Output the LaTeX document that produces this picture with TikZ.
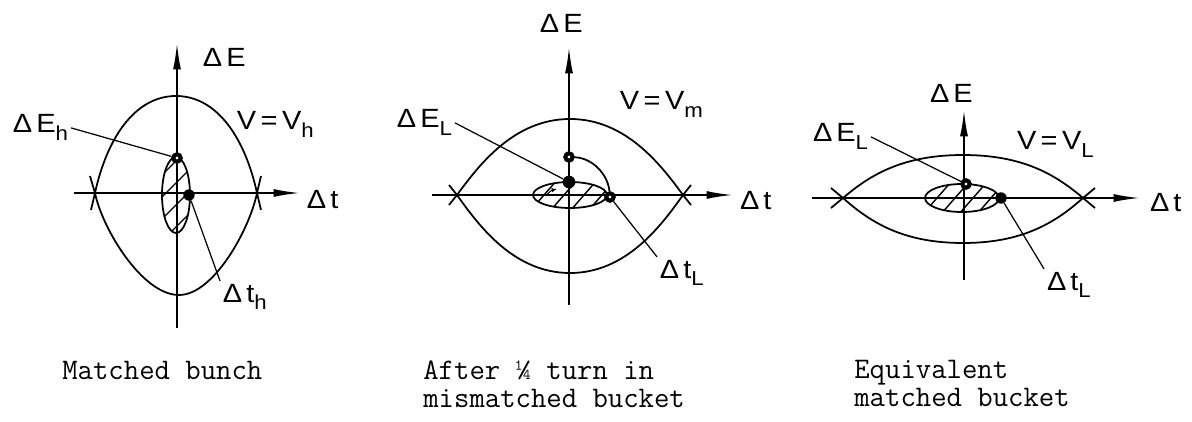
\documentclass[tikz,border=0pt]{standalone}
\usepackage{fontspec}
\newfontfamily\labfont[FakeStretch=1.1, LetterSpace=15]{Liberation Sans}
\usetikzlibrary{arrows.meta}

\newcommand{\lowsub}[1]{\raisebox{-4.5pt}{\fontsize{11.5}{11.5}\selectfont #1}}

\tikzset{
  axis/.style={line width=1pt, -{Latex[length=15pt,width=4.5pt]}},
  sepx/.style={line width=1pt},
  bunch/.style={line width=1pt},
  hatch/.style={line width=0.8pt},
  leader/.style={line width=0.7pt},
  lbl/.style={font=\labfont\fontsize{15}{17}\selectfont, inner sep=1.5pt, anchor=base west},
  caption/.style={font=\ttfamily\fontsize{17}{16}\selectfont, inner sep=0pt, anchor=north west, align=left},
  dot/.style={circle, fill, inner sep=0pt, minimum size=6.5pt},
  ringdot/.style={circle, draw, fill=white, line width=2.3pt, inner sep=0pt, minimum size=4.2pt},
}

\begin{document}
\begin{tikzpicture}[x=0.02cm, y=-0.02cm]
\useasboundingbox (0,0) rectangle (1192,422);

% matched bunch
\begin{scope}[shift={(177,193)}]
  \draw[axis] (-103,0) -- (123,0);
  \draw[axis] (0,135) -- (0,-150);
  \draw[sepx] (-86,17) -- (-82,0) .. controls (-70,-55) and (-42,-97) .. (-1,-97)
    .. controls (40,-97) and (68,-55) .. (80,0) -- (84,17);
  \draw[sepx] (-87,-17) -- (-82,0) .. controls (-75,35) and (-35,102) .. (2,102)
    .. controls (37,102) and (73,35) .. (80,0) -- (84,-17);
  \draw[bunch] (-1,2) ellipse [x radius=14, y radius=38];
  \begin{scope}
    \clip (-1,2) ellipse [x radius=14, y radius=38];
    \foreach \k in {-33,-11,11,33}
      \draw[hatch] (-20,\k+20) -- (20,\k-20);
  \end{scope}
  \node[ringdot] (mbE) at (0,-35) {};
  \node[dot] (mbT) at (12,2) {};
  \node[lbl] (mbAxE) at (23,-126) {ΔE};
  \node[lbl] (mbAxT) at (127,16) {Δt};
  \node[lbl] (mbV) at (57,-63) {V\,=\,V\lowsub{h}};
  \node[lbl] (mbElbl) at (-167,-60) {ΔE\lowsub{h}};
  \node[lbl] (mbTlbl) at (43,109) {Δt\lowsub{h}};
  \draw[leader] (mbElbl.east) -- (mbE);
  \draw[leader] (mbT) -- (mbTlbl.north west);
\end{scope}

% after a quarter turn, mismatched
\begin{scope}[shift={(569,195)}]
  \draw[axis] (-137,0) -- (164,0);
  \draw[axis] (0,110) -- (0,-148);
  \draw[sepx] (-120,10) -- (-112,0) .. controls (-90,-30) and (-55,-76) .. (1,-76)
    .. controls (57,-76) and (92,-30) .. (114,0) -- (122,10);
  \draw[sepx] (-120,-10) -- (-112,0) .. controls (-90,31) and (-55,78) .. (1,78)
    .. controls (57,78) and (92,31) .. (114,0) -- (122,-10);
  \draw[bunch] (1,0) ellipse [x radius=37, y radius=13];
  \begin{scope}
    \clip (1,0) ellipse [x radius=37, y radius=13];
    \foreach \k in {-25,-5,15,33}
      \draw[hatch] (\k-14,16) -- (\k+14,-16);
  \end{scope}
  \draw[line width=0.6pt, -{Latex[length=3pt,width=2.5pt]}] (-23,1) to[bend left=20] (-12,-6);
  \node[ringdot] (mmTop) at (0,-38) {};
  \node[dot, minimum size=7.2pt] (mmE) at (0,-13) {};
  \node[ringdot] (mmT) at (41,2) {};
  \draw[bunch] (mmTop) .. controls (24,-37) and (39,-20) .. (mmT);
  \node[lbl] (mmAxE) at (-32,-162) {ΔE};
  \node[lbl] (mmAxT) at (168,15) {Δt};
  \node[lbl] (mmV) at (48,-85) {V\,=\,V\lowsub{m}};
  \node[lbl] (mmElbl) at (-175,-67) {ΔE\lowsub{L}};
  \node[lbl] (mmTlbl) at (88,83) {Δt\lowsub{L}};
  \draw[leader] (mmElbl.east) -- (mmE);
  \draw[leader] (mmT) -- (mmTlbl.north west);
\end{scope}

% equivalent matched bucket
\begin{scope}[shift={(964,198)}]
  \draw[axis] (-152,0) -- (176,0);
  \draw[axis] (0,82) -- (0,-88);
  \draw[sepx] (-133,10) -- (-121,0) .. controls (-93,-24) and (-60,-43) .. (-1,-43)
    .. controls (58,-43) and (91,-24) .. (119,0) -- (131,10);
  \draw[sepx] (-133,-10) -- (-121,0) .. controls (-93,25) and (-60,45) .. (-1,45)
    .. controls (58,45) and (91,25) .. (119,0) -- (131,-10);
  \draw[bunch] (-2,0) ellipse [x radius=37, y radius=14];
  \begin{scope}
    \clip (-2,0) ellipse [x radius=37, y radius=14];
    \foreach \k in {-27,-9,9,27}
      \draw[hatch] (\k-14,16) -- (\k+14,-16);
  \end{scope}
  \node[ringdot] (eqE) at (2,-14) {};
  \node[dot] (eqT) at (37,0) {};
  \node[lbl] (eqAxE) at (-37,-95) {ΔE};
  \node[lbl] (eqAxT) at (183,14) {Δt};
  \node[lbl] (eqV) at (50,-48) {V\,=\,V\lowsub{L}};
  \node[lbl] (eqElbl) at (-154,-56) {ΔE\lowsub{L}};
  \node[lbl] (eqTlbl) at (80,92) {Δt\lowsub{L}};
  \draw[leader] (eqElbl.east) -- (eqE);
  \draw[leader] (eqT) -- (eqTlbl.north west);
\end{scope}

% captions
\node[caption] (capA) at (62,361) {Matched bunch};
\node[caption] (capB) at (423,360) {After ¼ turn in\\mismatched bucket};
\node[caption] (capC) at (854,360) {Equivalent\\matched bucket};
\end{tikzpicture}
\end{document}
